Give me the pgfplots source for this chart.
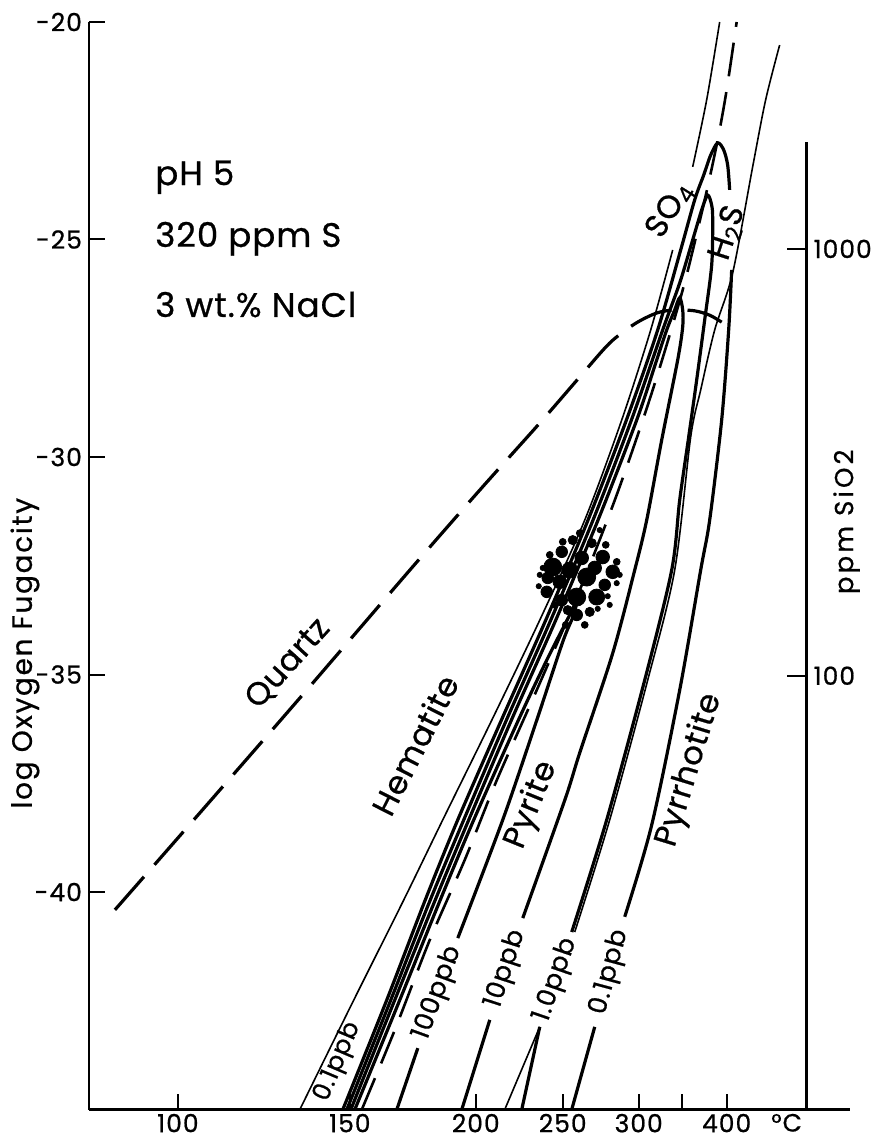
\documentclass[border=0pt]{standalone}
\usepackage{fontspec}
\setmainfont{Poppins}[FakeBold=0.7]
\usepackage{pgfplots}
\pgfplotsset{compat=1.18}
\newcommand\fs[1]{\fontsize{#1}{#1}\selectfont}
\newcommand\ls[1]{\addfontfeature{LetterSpace=#1}}
\pgfplotsset{
  thinl/.style={black, line width=0.8pt, smooth, tension=0.5, no markers},
  boldl/.style={black, line width=1.6pt, smooth, tension=0.5, no markers},
}
\begin{document}
\begin{tikzpicture}
\begin{axis}[
  scale only axis, width=380.5pt, height=544pt,
  xmin=89, xmax=850, ymin=-45, ymax=-20,
  axis lines=left, axis line style={-, line width=1.2pt},
  xtick={178,350,476,563,639,682,727},
  xticklabels={100,150,200,250,300,{},400},
  extra x ticks={787}, extra x tick labels={°C},
  extra x tick style={major tick length=0pt},
  ytick={-40,-35,-30,-25,-20},
  yticklabels={-40,-35,-30,-25,-20},
  tick align=inside, major tick length=8pt,
  tick style={line width=1pt, black},
  tick label style={font=\fs{12.5}\ls{4}},
  xticklabel style={inner sep=1pt, yshift=-1pt},
  clip=false,
]
% boundary lines
\addplot[thinl] coordinates {(300,-45.0) (354,-42.48) (404,-40.18) (443,-38.34) (492,-36.05) (540,-33.75) (585,-31.45) (622,-29.15) (651,-27.08) (673,-25.24)};
\addplot[thinl] coordinates {(693,-23.33) (707,-21.79) (720,-20.0)};
\addplot[black, line width=1.3pt, smooth, tension=0.5, dash pattern=on 17pt off 8pt] coordinates {(362,-45.0) (395,-43.17) (430,-41.10) (465,-39.26) (497,-37.43) (540,-35.20) (580,-33.06) (617,-30.87) (652,-28.53) (683,-26.16) (705,-24.09) (718,-22.71) (727,-21.56) (737,-20.0)};
\addplot[thinl] coordinates {(575,-40.92) (610,-38.34) (648,-35.13) (675,-32.60) (691,-29.54) (701,-28.46) (715,-27.08) (733,-25.77) (753,-23.33) (766,-21.79) (780,-20.53)};
\addplot[thinl] coordinates {(540,-43.10) (505,-45.0)};
% 0.1 ppb
\addplot[boldl] coordinates {(343,-45.0) (387,-42.48) (425.5,-40.18) (458,-38.34) (501.6,-36.05) (546,-33.75) (588.3,-31.45) (626.7,-29.15) (658,-27.08) (681,-25.24) (695,-24.09) (704,-23.52) (711,-23.06) (718,-22.78) (724,-22.94) (728,-23.29) (730,-23.86)};
\addplot[boldl] coordinates {(732,-25.70) (729,-27.08) (722,-29.15) (710,-31.45) (701,-32.60) (680,-35.36) (652,-38.46) (625,-40.57)};
\addplot[boldl] coordinates {(595,-43.10) (572,-45.0)};
% 1.0 ppb
\addplot[boldl] coordinates {(347,-45.0) (391,-42.48) (430.5,-40.18) (464,-38.34) (506.6,-36.05) (551,-33.75) (593.3,-31.45) (631.7,-29.15) (663,-27.08) (680,-26.00) (693,-25.01) (702,-24.32) (708,-23.98) (712,-24.21) (713,-24.55) (712,-25.59) (705,-26.85) (697,-28.23) (689,-29.54) (680,-30.99) (672,-32.60) (645,-35.13) (607,-38.34) (572,-40.92)};
\addplot[boldl] coordinates {(540,-43.10) (522,-45.0)};
% 10 ppb
\addplot[boldl] coordinates {(351,-45.0) (395,-42.48) (435.5,-40.18) (469,-38.34) (511.6,-36.05) (556,-33.75) (598.3,-31.45) (637,-29.15) (657,-27.77) (667,-27.08) (675,-26.62) (680,-26.34) (683,-26.62) (683,-27.01) (678,-27.77) (662,-29.61) (647,-31.45) (635,-32.60) (613,-34.51) (580,-36.80) (565,-37.89) (523,-40.60)};
\addplot[boldl] coordinates {(490,-42.94) (462,-45.0)};
% 100 ppb
\addplot[boldl] coordinates {(355,-45.0) (400,-42.48) (440.5,-40.18) (474,-38.34) (518.6,-36.05) (547,-34.67) (570,-33.63) (577,-33.29) (574,-33.63) (563,-34.25) (537,-36.05) (503,-38.34) (458,-41.06)};
\addplot[boldl] coordinates {(418,-43.59) (397,-45.0)};
% quartz
\addplot[black, line width=1.6pt, smooth, tension=0.5, dash pattern=on 22pt off 8pt] coordinates {(115,-40.41) (200,-38.18) (300,-35.54) (410,-32.60) (480,-30.76) (540,-29.22) (580,-28.16) (610,-27.38) (635,-26.94) (657,-26.69) (675,-26.62) (695,-26.64) (710,-26.74) (722,-26.90)};
% dot cluster
\addplot[only marks, mark=*, mark size=4.5pt, black] coordinates {(553,-32.53) (577,-33.22) (587,-32.76)};
\addplot[only marks, mark=*, mark size=4pt, black] coordinates {(597,-33.22) (570,-32.60)};
\addplot[only marks, mark=*, mark size=3.4pt, black] coordinates {(603,-32.30) (613,-32.64) (582,-32.32) (560,-32.87) (595,-32.55)};
\addplot[only marks, mark=*, mark size=2.9pt, black] coordinates {(605,-32.94) (577,-33.63) (562,-32.18) (548,-32.78) (547,-33.10) (562,-33.29)};
\addplot[only marks, mark=*, mark size=2.3pt, black] coordinates {(590,-33.56) (573,-31.91) (592,-31.98) (568,-33.52)};
\addplot[only marks, mark=*, mark size=1.7pt, black] coordinates {(563,-31.95) (606,-32.02) (617,-32.41) (550,-32.25) (580,-31.75) (555,-33.40) (585,-33.86) (566,-33.86)};
\addplot[only marks, mark=*, mark size=1.3pt, black] coordinates {(617,-32.90) (608,-33.20) (598,-33.49) (543,-32.55) (539,-32.97) (610,-33.40) (620,-32.71) (540,-32.71) (600,-31.68)};
% labels
\node[anchor=base west, inner sep=0pt, font=\fs{17}\ls{3}] at (axis cs:155,-23.75) {pH 5};
\node[anchor=base west, inner sep=0pt, font=\fs{17}\ls{3}] at (axis cs:155,-25.17) {320 ppm S};
\node[anchor=base west, inner sep=0pt, font=\fs{17}\ls{3}] at (axis cs:155,-26.78) {3 wt.\% NaCl};
\node[rotate=48, inner sep=1pt, font=\fs{16}\ls{2}] at (axis cs:288,-34.75) {Quartz};
\node[rotate=63, inner sep=1pt, font=\fs{16}\ls{2}] at (axis cs:415,-36.62) {Hematite};
\node[rotate=68, inner sep=1pt, font=\fs{16}\ls{2}] at (axis cs:532,-38.00) {Pyrite};
\node[rotate=73, inner sep=1pt, font=\fs{16}\ls{2}] at (axis cs:690,-37.20) {Pyrrhotite};
\node[rotate=58, inner sep=1pt, font=\fs{16}\ls{2}] at (axis cs:670,-24.32) {SO\textsubscript{4}};
\node[rotate=72, inner sep=1pt, font=\fs{16}\ls{2}] at (axis cs:728,-24.85) {H\textsubscript{2}S};
\node[rotate=67, inner sep=1pt, font=\fs{12.5}\ls{3}] at (axis cs:338,-43.90) {0.1ppb};
\node[rotate=70, inner sep=1pt, font=\fs{13}\ls{3}] at (axis cs:438,-42.32) {100ppb};
\node[rotate=72, inner sep=1pt, font=\fs{13}\ls{3}] at (axis cs:506,-41.77) {10ppb};
\node[rotate=71, inner sep=1pt, font=\fs{13}\ls{3}] at (axis cs:556,-42.02) {1.0ppb};
\node[rotate=75, inner sep=1pt, font=\fs{13}\ls{3}] at (axis cs:610,-41.84) {0.1ppb};
\node[rotate=90, inner sep=1pt, font=\fs{14}\ls{6}] at (axis cs:25,-34.51) {log Oxygen Fugacity};
\node[rotate=90, inner sep=1pt, font=\fs{13}\ls{12}] at (axis cs:847,-31.49) {ppm SiO2};
\coordinate (BL) at (axis cs:0,-45.724);
\coordinate (TR) at (axis cs:894,-19.494);
\end{axis}
\begin{axis}[
  scale only axis, width=359pt, height=484pt,
  xmin=0, xmax=1, ymode=log, ymin=9.63, ymax=1781,
  axis x line=none, axis y line*=right,
  axis line style={-, line width=1.2pt},
  ytick={100,1000}, yticklabels={100,1000},
  minor tick length=0pt,
  tick align=inside, major tick length=10pt,
  tick style={line width=1pt, black},
  tick label style={font=\fs{12.5}\ls{4}},
]
\end{axis}
\pgfresetboundingbox
\path[use as bounding box] (BL) rectangle (TR);
\end{tikzpicture}
\end{document}
